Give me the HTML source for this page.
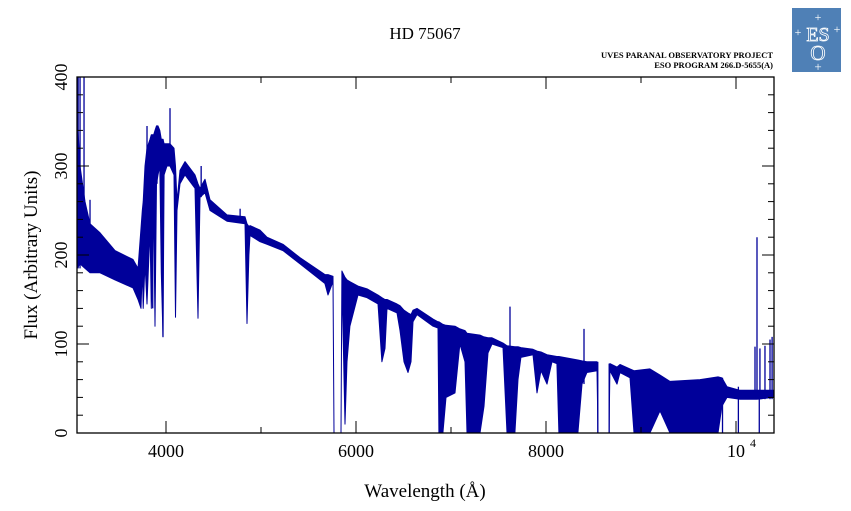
<!DOCTYPE html>
<html><head><meta charset="utf-8"><style>
html,body{margin:0;padding:0;background:#fff;}
svg{display:block;}
text{font-family:"Liberation Serif",serif;}
</style></head><body>
<svg id="chart" width="851" height="511" viewBox="0 0 851 511" xmlns="http://www.w3.org/2000/svg">
<text x="425" y="39" text-anchor="middle" font-size="17">HD 75067</text>
<text x="773" y="58" text-anchor="end" font-size="8.5" font-weight="bold">UVES PARANAL OBSERVATORY PROJECT</text>
<text x="773" y="68" text-anchor="end" font-size="8.5" font-weight="bold">ESO PROGRAM 266.D-5655(A)</text>
<g>
<rect x="792" y="8" width="49" height="64" fill="#4f80b6"/>
<text x="818" y="41" text-anchor="middle" font-size="20" fill="none" stroke="#fff" stroke-width="0.8">ES</text>
<text x="818" y="60" text-anchor="middle" font-size="21" fill="none" stroke="#fff" stroke-width="0.8">O</text>
<text x="818" y="21" text-anchor="middle" font-size="12" fill="#fff">+</text>
<text x="798" y="36" text-anchor="middle" font-size="12" fill="#fff">+</text>
<text x="837" y="33" text-anchor="middle" font-size="12" fill="#fff">+</text>
<text x="818" y="71" text-anchor="middle" font-size="13" fill="#fff">+</text>
</g>
<g id="plot"></g>
<text x="425" y="497" text-anchor="middle" font-size="19">Wavelength (Å)</text>
<text transform="translate(37,255) rotate(-90)" text-anchor="middle" font-size="19">Flux (Arbitrary Units)</text>
</svg>
<script>
const wavelengths=[3063,3095,3147,3200,3305,3463,3652,3705,3737,3750,3760,3779,3800,3831,3845,3870,3884,3900,3916,3935,3950,3968,3980,4010,4042,4084,4100,4116,4147,4200,4305,4337,4358,4410,4463,4642,4831,4852,4873,4884,4989,5063,5231,5410,5673,5705,5758,5768,5842,5852,5884,5905,5936,6021,6116,6231,6273,6305,6326,6431,6463,6505,6547,6579,6600,6642,6810,6863,6873,6915,6947,7042,7094,7147,7168,7305,7347,7389,7431,7547,7589,7673,7705,7736,7863,7905,7947,8010,8063,8115,8136,8336,8379,8431,8537,8547,8663,8673,8747,8779,8884,8926,9094,9200,9305,9621,9810,9852,9905,10042,10221,10400];
const fluxUpper=[360,300,260,235,225,205,195,185,230,250,260,300,320,330,335,335,340,345,345,340,330,330,325,325,325,320,300,260,295,305,290,280,275,285,262,245,243,235,232,233,228,220,212,197,178,178,176,0,0,182,175,172,170,165,162,155,152,150,150,145,143,138,135,133,138,140,128,125,125,122,121,120,117,115,112,110,108,107,107,101,98,97,97,96,94,92,91,88,87,86,86,82,81,80,80,0,0,78,74,77,72,70,72,65,58,60,63,62,52,48,48,48];
const fluxLower=[185,190,185,180,180,172,163,150,140,185,140,190,145,230,140,250,120,280,290,300,180,108,290,300,300,290,130,250,280,290,275,129,265,270,250,238,235,123,200,222,215,212,205,190,168,155,170,0,0,175,10,80,120,155,152,145,80,95,140,135,115,80,68,80,125,133,120,118,0,0,40,45,100,80,0,0,30,90,100,96,0,0,60,85,88,45,70,55,80,78,0,0,55,68,70,0,0,70,55,68,62,0,0,25,0,0,0,30,40,38,38,40];
const spikeWl=[3075,3095,3137,3200,3240,3800,3860,3905,4042,4370,4780,7621,8400,10200,10221,10252,10305,10358,10380];
const spikeTop=[400,400,400,262,220,345,335,345,365,300,252,142,117,97,220,95,98,105,108];
const dropWl=[3968,5770,5840,8545,8665,9858,10025,10245];
const dropBottom=[108,0,0,0,0,0,0,0];
const xTicks=[4000,6000,8000,10000];
const xTickLabels=["4000","6000","8000","10"];
const xMinor=[5000,7000,9000];
const yTicks=[0,100,200,300,400];

const X0=77,X1=774,Y0=433,Y1=77,WMIN=3063,WMAX=10400,FMAX=400;
const xs=w=>X0+(w-WMIN)/(WMAX-WMIN)*(X1-X0);
const ys=f=>Y0-f/FMAX*(Y0-Y1);
const NS="http://www.w3.org/2000/svg";
const g=document.getElementById('plot');
function mk(t,a){const e=document.createElementNS(NS,t);for(const k in a)e.setAttribute(k,a[k]);g.appendChild(e);return e;}
const C="#00009a";
let pts=[];
for(let i=0;i<wavelengths.length;i++)pts.push(xs(wavelengths[i]).toFixed(1)+","+ys(fluxUpper[i]).toFixed(1));
for(let i=wavelengths.length-1;i>=0;i--)pts.push(xs(wavelengths[i]).toFixed(1)+","+ys(fluxLower[i]).toFixed(1));
const env=mk('polygon',{points:pts.join(" "),fill:C,stroke:C,'stroke-width':1,'stroke-linejoin':'round'});


for(let i=0;i<spikeWl.length;i++){
  let j=0;while(j<wavelengths.length-1&&wavelengths[j+1]<spikeWl[i])j++;
  const base=fluxLower[j];
  const l=mk('line',{x1:xs(spikeWl[i]),x2:xs(spikeWl[i]),y1:ys(base),y2:ys(spikeTop[i]),stroke:C,'stroke-width':1.3});
  
  
}
for(let i=0;i<dropWl.length;i++){
  let j=0;while(j<wavelengths.length-1&&wavelengths[j+1]<dropWl[i])j++;
  const top=Math.max(fluxUpper[j],fluxUpper[j+1]||0);
  const l=mk('line',{x1:xs(dropWl[i]),x2:xs(dropWl[i]),y1:ys(top),y2:ys(dropBottom[i]),stroke:C,'stroke-width':1.3});
  
  
}
const fr=mk('rect',{x:X0,y:Y1,width:X1-X0,height:Y0-Y1,fill:'none',stroke:'#000','stroke-width':1.3});


xTicks.forEach((v,i)=>{
  const x=xs(v);
  mk('line',{x1:x,x2:x,y1:Y0,y2:Y0-12,stroke:'#000','stroke-width':1});
  mk('line',{x1:x,x2:x,y1:Y1,y2:Y1+12,stroke:'#000','stroke-width':1});
  const t=mk('text',{x:x,y:457,'text-anchor':'middle','font-size':18});
  t.textContent=xTickLabels[i];
  
  
  if(v===10000){const s=mk('text',{x:x+14,y:447,'font-size':12});s.textContent="4";
    
    }
});
xMinor.forEach(v=>{const x=xs(v);
  mk('line',{x1:x,x2:x,y1:Y0,y2:Y0-6,stroke:'#000'});
  mk('line',{x1:x,x2:x,y1:Y1,y2:Y1+6,stroke:'#000'});});
for(let f=0;f<=FMAX;f+=20){const y=ys(f);const L=f%100===0?12:6;
  mk('line',{x1:X0,x2:X0+L,y1:y,y2:y,stroke:'#000'});
  mk('line',{x1:X1,x2:X1-L,y1:y,y2:y,stroke:'#000'});}
yTicks.forEach(v=>{const y=ys(v);
  const t=mk('text',{transform:`translate(67,${y}) rotate(-90)`,'text-anchor':'middle','font-size':18});
  t.textContent=String(v);
  
  });
</script>
</body></html>
